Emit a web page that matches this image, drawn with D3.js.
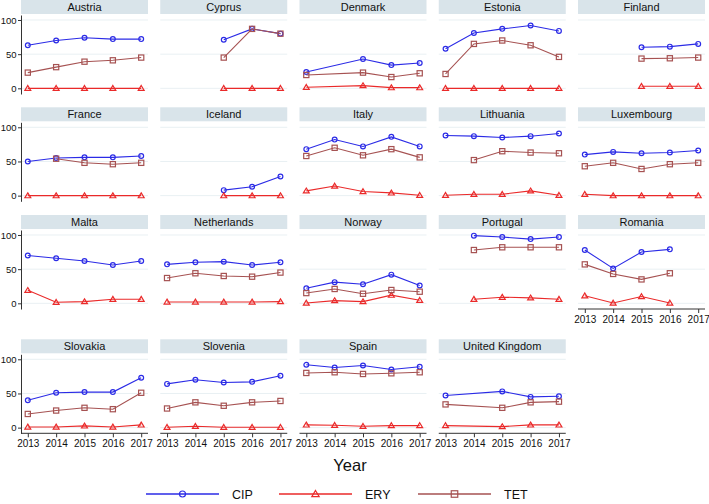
<!DOCTYPE html>
<html><head><meta charset="utf-8">
<script src="https://cdn.jsdelivr.net/npm/d3@7"></script>
<style>
html,body{margin:0;padding:0;background:#fff;}
text{font-family:"Liberation Sans",Arial,Helvetica,sans-serif;fill:#111;}
</style></head>
<body><svg id="chart" width="709" height="504"></svg>
<script>
const years = [2013, 2014, 2015, 2016, 2017];
const countries = ["Austria","Cyprus","Denmark","Estonia","Finland",
  "France","Iceland","Italy","Lithuania","Luxembourg",
  "Malta","Netherlands","Norway","Portugal","Romania",
  "Slovakia","Slovenia","Spain","United Kingdom"];
const cip = [
  [63,70,74,72,72],
  [null,null,71,87,80],
  [24,null,43,34,37],
  [58,81,87,92,84],
  [null,null,60,61,65],
  [50,55,56,56,58],
  [null,null,8,13,28],
  [68,82,72,86,72],
  [88,87,85,87,91],
  [60,64,62,63,66],
  [70,66,62,56,62],
  [57,60,61,56,60],
  [22,31,28,42,26],
  [null,99,97,94,97],
  [78,51,75,79,null],
  [40,51,52,52,73],
  [64,70,66,67,76],
  [92,88,91,85,89],
  [47,null,53,45,46]
];
const ery = [
  [0,0,0,0,0],
  [null,null,0,0,0],
  [1.5,null,4,1,1],
  [0,0,0,0,0],
  [null,null,3,3,3],
  [0,0,0,0,0],
  [null,null,0,0,0],
  [7,14,6,4,0.5],
  [0.5,2,2,7,0.5],
  [2,0,0,0,0],
  [19,1.5,2.5,6,6],
  [2,2,2,2,2.5],
  [0.5,4,2.5,12,4.5],
  [null,6,9,8,6],
  [11,0.5,10,0.5,null],
  [1,1,2.5,1,4],
  [0.5,2,0.5,0.5,0.5],
  [4,3.5,2,3,3],
  [3,null,1.5,4,4]
];
const tet = [
  [23,31,39,41,45],
  [null,null,45,87,80],
  [19.5,null,23,16.5,22],
  [21,65,70,63,46],
  [null,null,43.5,44,45],
  [null,54,48,46,48],
  [null,null,null,null,null],
  [58,70,59,68,56],
  [null,52,65,63,62],
  [43,48,39,46,48],
  [null,null,null,null,null],
  [37,44,40,39,45],
  [15,21,14,19.5,17],
  [null,78,82,82,82],
  [57,43,35,44,null],
  [20,25,29,27,51],
  [28,37,32,37,39],
  [80,81,78.5,79.5,81],
  [34,null,29,37,38]
];
const yTicks = [0, 50, 100];
const seriesNames = ["CIP", "ERY", "TET"];
const seriesData = [cip, ery, tet];
const seriesColors = ["#2b2be6", "#ea2a2a", "#a65252"];
const seriesShapes = ["circle", "triangle", "square"];

const svg = d3.select("#chart");
const nCols = 5, panelW = 127, plotH = 79, colStep = 139.25, col0 = 21;
const rowTop = [15, 122.3, 230, 354.3];

const x = d3.scaleLinear().domain([2013, 2017]).range([6.8, 120.2]);
const y = d3.scaleLinear().domain([-8.3, 107.3]).range([plotH, 0]);

function drawMarker(g, shape, cx, cy, color, s) {
  if (shape === "circle") {
    g.append("circle").attr("cx", cx).attr("cy", cy).attr("r", 2.4*s)
      .attr("fill", "none").attr("stroke", color).attr("stroke-width", 1.2);
  } else if (shape === "triangle") {
    const h = 2.8*s;
    g.append("path").attr("d", `M${cx},${cy-h}L${cx+h*1.05},${cy+h*0.75}L${cx-h*1.05},${cy+h*0.75}Z`)
      .attr("fill", "none").attr("stroke", color).attr("stroke-width", 1.2);
  } else {
    const h = 2.6*s;
    g.append("rect").attr("x", cx-h).attr("y", cy-h).attr("width", 2*h).attr("height", 2*h)
      .attr("fill", "none").attr("stroke", color).attr("stroke-width", 1.2);
  }
}

countries.forEach((name, i) => {
  const r = Math.floor(i / nCols), c = i % nCols;
  const left = col0 + c * colStep, top = rowTop[r];
  const g = svg.append("g").attr("transform", `translate(${left},${top})`);
  // strip
  g.append("rect").attr("x", 0).attr("y", -15).attr("width", panelW).attr("height", 14)
    .attr("fill", "#d9e4ea");
  g.append("text").attr("x", panelW/2).attr("y", -4.2).attr("text-anchor", "middle")
    .attr("font-size", 11).text(name);
  // gridlines
  yTicks.forEach(t => {
    g.append("line").attr("x1", 0).attr("x2", panelW).attr("y1", y(t)).attr("y2", y(t))
      .attr("stroke", "#e9f0f3").attr("stroke-width", 1);
  });
  // y axis
  if (c === 0) {
    const ax = g.append("g").call(d3.axisLeft(y).tickValues(yTicks).tickSize(3).tickPadding(1.5).tickSizeOuter(0));
    ax.select(".domain").attr("stroke", "#333");
    ax.selectAll(".tick line").attr("stroke", "#333");
    ax.selectAll("text").attr("font-size", 9.5).attr("font-family", "Liberation Sans, Arial, sans-serif").attr("fill", "#111");
  }
  // x axis
  if (i + nCols >= countries.length) {
    const ax = g.append("g").attr("transform", `translate(0,${plotH})`)
      .call(d3.axisBottom(x).tickValues(years).tickFormat(d3.format("d")).tickSize(4).tickPadding(3).tickSizeOuter(0));
    ax.select(".domain").attr("stroke", "#333").attr("d", `M0,0H${panelW}`);
    ax.selectAll(".tick line").attr("stroke", "#333");
    ax.selectAll("text").attr("font-size", 10).attr("font-family", "Liberation Sans, Arial, sans-serif").attr("fill", "#111");
  }
  // series
  seriesData.forEach((data, si) => {
    const pts = years.map((yr, k) => ({yr, v: data[i][k]})).filter(d => d.v != null);
    if (!pts.length) return;
    g.append("path").datum(pts)
      .attr("d", d3.line().x(d => x(d.yr)).y(d => y(d.v)))
      .attr("fill", "none").attr("stroke", seriesColors[si]).attr("stroke-width", 1.1);
    pts.forEach(d => drawMarker(g, seriesShapes[si], x(d.yr), y(d.v), seriesColors[si], 1));
  });
});

// x title
svg.append("text").attr("x", 350).attr("y", 470.5).attr("text-anchor", "middle")
  .attr("font-size", 16.5).text("Year");

// legend
const legX = [146, 279, 418];
seriesNames.forEach((nm, si) => {
  const g = svg.append("g");
  const ly = 494;
  g.append("line").attr("x1", legX[si]).attr("x2", legX[si] + 73).attr("y1", ly).attr("y2", ly)
    .attr("stroke", seriesColors[si]).attr("stroke-width", 1.3);
  drawMarker(g, seriesShapes[si], legX[si] + 36.5, ly, seriesColors[si], 1.25);
  g.append("text").attr("x", legX[si] + 86).attr("y", ly + 4.5).attr("font-size", 12.5).text(nm);
});
</script></body></html>
